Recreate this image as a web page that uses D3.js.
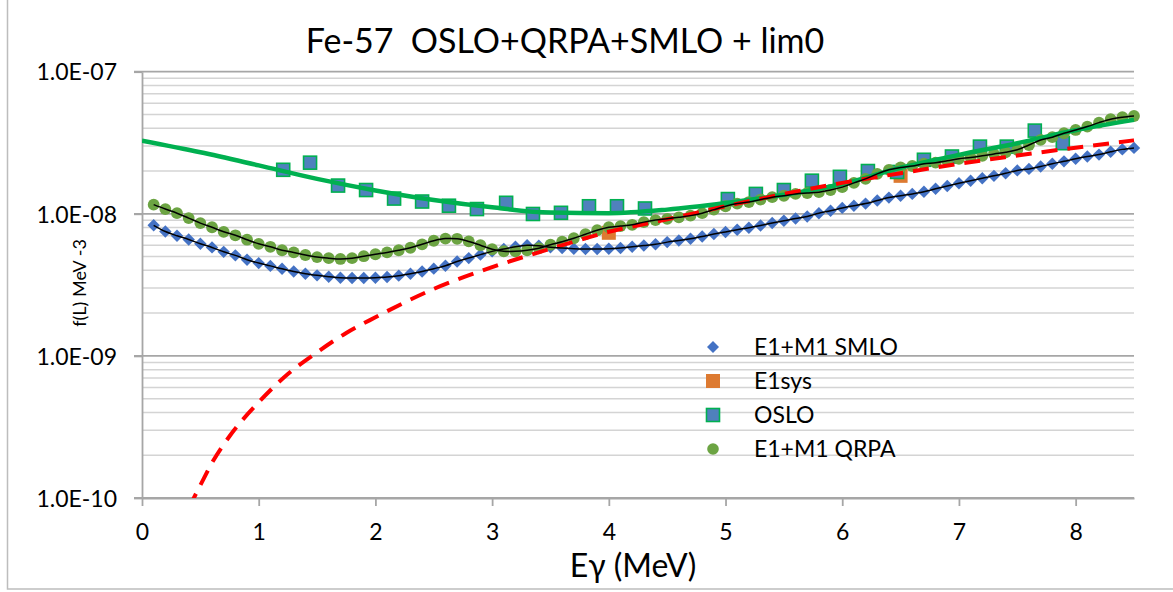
<!DOCTYPE html>
<html>
<head>
<meta charset="utf-8">
<script src="https://cdn.jsdelivr.net/npm/d3@7"></script>
<style>
  body { margin: 0; background: #fff; }
  text { font-family: Lato, "Open Sans", sans-serif; fill: #000; }
</style>
</head>
<body>
<div id="chart-area"></div>
<script>
// energies (MeV) of the calculated strength functions
const gridE = [0.1,0.2,0.3,0.4,0.5,0.6,0.7,0.8,0.9,1.0,
  1.1,1.2,1.3,1.4,1.5,1.6,1.7,1.8,1.9,2.0,
  2.1,2.2,2.3,2.4,2.5,2.6,2.7,2.8,2.9,3.0,
  3.1,3.2,3.3,3.4,3.5,3.6,3.7,3.8,3.9,4.0,
  4.1,4.2,4.3,4.4,4.5,4.6,4.7,4.8,4.9,5.0,
  5.1,5.2,5.3,5.4,5.5,5.6,5.7,5.8,5.9,6.0,
  6.1,6.2,6.3,6.4,6.5,6.6,6.7,6.8,6.9,7.0,
  7.1,7.2,7.3,7.4,7.5,7.6,7.7,7.8,7.9,8.0,
  8.1,8.2,8.3,8.4,8.5];

const smloF = [8.3e-9,7.5e-9,7.0e-9,6.6e-9,6.15e-9,5.8e-9,5.4e-9,5.1e-9,4.75e-9,4.5e-9,
  4.3e-9,4.1e-9,3.93e-9,3.79e-9,3.69e-9,3.61e-9,3.55e-9,3.53e-9,3.53e-9,3.55e-9,
  3.59e-9,3.67e-9,3.79e-9,3.93e-9,4.11e-9,4.31e-9,4.62e-9,4.88e-9,5.16e-9,5.44e-9,
  5.65e-9,5.87e-9,6.0e-9,5.96e-9,5.82e-9,5.75e-9,5.68e-9,5.65e-9,5.65e-9,5.68e-9,
  5.75e-9,5.87e-9,5.98e-9,6.1e-9,6.32e-9,6.49e-9,6.67e-9,6.93e-9,7.2e-9,7.45e-9,
  7.72e-9,7.98e-9,8.28e-9,8.61e-9,8.93e-9,9.27e-9,9.57e-9,1.01e-8,1.05e-8,1.10e-8,
  1.14e-8,1.18e-8,1.24e-8,1.30e-8,1.34e-8,1.38e-8,1.43e-8,1.50e-8,1.57e-8,1.64e-8,
  1.71e-8,1.78e-8,1.85e-8,1.93e-8,2.02e-8,2.07e-8,2.15e-8,2.25e-8,2.34e-8,2.44e-8,
  2.53e-8,2.61e-8,2.73e-8,2.84e-8,2.91e-8];

const qrpaF = [1.16e-8,1.08e-8,1.01e-8,9.33e-9,8.6e-9,8.04e-9,7.47e-9,7.06e-9,6.57e-9,6.15e-9,
  5.86e-9,5.54e-9,5.35e-9,5.13e-9,4.96e-9,4.87e-9,4.81e-9,4.87e-9,5.03e-9,5.19e-9,
  5.35e-9,5.54e-9,5.77e-9,6.10e-9,6.46e-9,6.69e-9,6.67e-9,6.39e-9,6.01e-9,5.63e-9,
  5.45e-9,5.45e-9,5.54e-9,5.72e-9,6.06e-9,6.36e-9,6.73e-9,7.18e-9,7.66e-9,8.04e-9,
  8.20e-9,8.37e-9,8.74e-9,9.03e-9,9.22e-9,9.45e-9,9.71e-9,1.01e-8,1.07e-8,1.13e-8,
  1.18e-8,1.21e-8,1.26e-8,1.31e-8,1.34e-8,1.38e-8,1.40e-8,1.42e-8,1.47e-8,1.54e-8,
  1.65e-8,1.76e-8,1.91e-8,2.04e-8,2.12e-8,2.17e-8,2.25e-8,2.29e-8,2.36e-8,2.44e-8,
  2.49e-8,2.56e-8,2.64e-8,2.71e-8,2.82e-8,3.05e-8,3.31e-8,3.46e-8,3.69e-8,3.89e-8,
  4.11e-8,4.38e-8,4.63e-8,4.78e-8,4.88e-8];

// Oslo data
const osloE = [1.21,1.44,1.68,1.92,2.16,2.40,2.63,2.87,3.12,3.35,3.59,3.83,4.07,4.31,
  5.02,5.26,5.50,5.74,5.98,6.22,6.47,6.70,6.94,7.18,7.41,7.65,7.89];
const osloF = [2.04e-8,2.29e-8,1.58e-8,1.47e-8,1.28e-8,1.22e-8,1.14e-8,1.08e-8,1.195e-8,9.97e-9,
  1.016e-8,1.13e-8,1.13e-8,1.09e-8,
  1.27e-8,1.38e-8,1.47e-8,1.71e-8,1.82e-8,2.00e-8,1.97e-8,2.40e-8,2.53e-8,2.97e-8,2.97e-8,3.85e-8,3.14e-8];

const e1sysE = [4.0, 6.5];
const e1sysF = [7.35e-9, 1.85e-8];

// fit through Oslo data (green)
const fitE = [0,0.5,1.0,1.5,2.0,2.5,3.0,3.5,4.0,4.5,5.0,5.5,6.0,6.5,7.0,7.5,8.0,8.5];
const fitF = [3.27e-8,2.71e-8,2.19e-8,1.76e-8,1.46e-8,1.25e-8,1.11e-8,1.02e-8,1.01e-8,1.07e-8,
  1.19e-8,1.36e-8,1.62e-8,2.11e-8,2.60e-8,3.14e-8,3.87e-8,4.58e-8];

// lim0 (red dashed)
const limE = [0.4,0.5,0.6,0.75,1.0,1.25,1.5,1.75,2.0,2.5,3.0,3.5,4.0,4.5,5.0,5.5,6.0,6.5,7.0,7.5,8.0,8.5];
const limF = [8.5e-11,1.23e-10,1.77e-10,2.72e-10,4.72e-10,7.45e-10,1.06e-9,1.45e-9,1.87e-9,2.96e-9,
  4.21e-9,5.67e-9,7.47e-9,9.15e-9,1.13e-8,1.38e-8,1.65e-8,1.93e-8,2.25e-8,2.57e-8,2.92e-8,3.29e-8];

const xTicks = [0,1,2,3,4,5,6,7,8];
const yTicks = [1e-10,1e-9,1e-8,1e-7];
const yTickLabels = ["1.0E-10","1.0E-09","1.0E-08","1.0E-07"];
const legendNames = ["E1+M1 SMLO","E1sys","OSLO","E1+M1 QRPA"];

const W = 1173, H = 592;
const margin = { left: 142, right: 39, top: 71.7, bottom: 94 };

const svg = d3.select("#chart-area").append("svg")
  .attr("width", W).attr("height", H);

// outer frame
svg.append("rect")
  .attr("x", 7.5).attr("y", -10)
  .attr("width", W + 20).attr("height", 599)
  .attr("fill", "#fff").attr("stroke", "#bdbdbd").attr("stroke-width", 1.5);

const x = d3.scaleLinear().domain([0, 8.5]).range([margin.left, W - margin.right]);
const y = d3.scaleLog().domain([1e-10, 1e-7]).range([H - margin.bottom, margin.top]);

const toPts = (E, F) => E.map((e, i) => ({ e: e, f: F[i] }));
const smlo = toPts(gridE, smloF);
const qrpa = toPts(gridE, qrpaF);
const oslo = toPts(osloE, osloF);
const e1sys = toPts(e1sysE, e1sysF);
const fit = toPts(fitE, fitF);
const lim = toPts(limE, limF);

// gridlines
const major = new Set(yTicks.map(d => d.toExponential(1)));
const gridVals = y.ticks().filter(d => !major.has(d.toExponential(1)));
svg.append("g").selectAll("line").data(gridVals).join("line")
  .attr("x1", x(0)).attr("x2", x(8.5))
  .attr("y1", d => y(d)).attr("y2", d => y(d))
  .attr("stroke", "#d4d4d4").attr("stroke-width", 1.5);
svg.append("g").selectAll("line").data(yTicks).join("line")
  .attr("x1", x(0) - 8).attr("x2", x(8.5))
  .attr("y1", d => y(d)).attr("y2", d => y(d))
  .attr("stroke", "#a6a6a6").attr("stroke-width", 1.8);

// axes
const xAxisG = svg.append("g")
  .attr("transform", `translate(0, ${y(1e-10)})`)
  .call(d3.axisBottom(x).tickValues(xTicks).tickSize(8).tickSizeOuter(0).tickFormat(d3.format("d")));
xAxisG.selectAll("path, line").attr("stroke", "#a6a6a6").attr("stroke-width", 1.8);
xAxisG.selectAll("text")
  .attr("y", 42).attr("dy", null)
  .style("font-size", "23px").style("font-family", "Lato").attr("fill", "#000");

const yAxisG = svg.append("g")
  .attr("transform", `translate(${x(0)}, 0)`)
  .call(d3.axisLeft(y).tickValues(yTicks).tickSize(8).tickSizeOuter(0)
    .tickPadding(17).tickFormat((d, i) => yTickLabels[i]));
yAxisG.selectAll("path, line").attr("stroke", "#a6a6a6").attr("stroke-width", 1.8);
yAxisG.selectAll("text")
  .attr("dy", "0.36em")
  .style("font-size", "23px").style("font-family", "Lato").attr("fill", "#000");

// clip
svg.append("clipPath").attr("id", "plot-clip")
  .append("rect")
  .attr("x", x(0)).attr("y", y(1e-7) - 10)
  .attr("width", x(8.5) - x(0) + 12).attr("height", y(1e-10) - y(1e-7) + 10);

const plot = svg.append("g").attr("clip-path", "url(#plot-clip)");

const colBlue = "#4472C4", colOrange = "#DD7A31", colOslo = "#4F81BD",
  colOsloEdge = "#00B050", colQrpa = "#6CA443";

const diamond = r => `M0,${-r}L${r},0L0,${r}L${-r},0Z`;

// SMLO diamonds
plot.append("g").selectAll("path").data(smlo).join("path")
  .attr("d", diamond(6.2))
  .attr("transform", d => `translate(${x(d.e)},${y(d.f)})`)
  .attr("fill", colBlue);

// E1sys squares
plot.append("g").selectAll("rect").data(e1sys).join("rect")
  .attr("x", d => x(d.e) - 7).attr("y", d => y(d.f) - 7)
  .attr("width", 14).attr("height", 14)
  .attr("fill", colOrange);

// Oslo squares
plot.append("g").selectAll("rect").data(oslo).join("rect")
  .attr("x", d => x(d.e) - 6.5).attr("y", d => y(d.f) - 6.5)
  .attr("width", 13).attr("height", 13)
  .attr("fill", colOslo).attr("stroke", colOsloEdge).attr("stroke-width", 1.6);

// QRPA circles
plot.append("g").selectAll("circle").data(qrpa).join("circle")
  .attr("cx", d => x(d.e)).attr("cy", d => y(d.f)).attr("r", 5.9)
  .attr("fill", colQrpa);

// lines
const lineGen = curve => d3.line().x(d => x(d.e)).y(d => y(d.f)).curve(curve);

plot.append("path").datum(fit)
  .attr("d", lineGen(d3.curveMonotoneX))
  .attr("fill", "none").attr("stroke", "#00B050").attr("stroke-width", 4.5);

plot.append("path").datum(lim)
  .attr("d", lineGen(d3.curveMonotoneX))
  .attr("fill", "none").attr("stroke", "#FF0000").attr("stroke-width", 4)
  .attr("stroke-dasharray", "16,10");

[smlo, qrpa].forEach(s => {
  plot.append("path").datum(s)
    .attr("d", lineGen(d3.curveCatmullRom.alpha(0.5)))
    .attr("fill", "none").attr("stroke", "#000").attr("stroke-width", 1.5);
});

// legend
const legend = svg.append("g").attr("transform", "translate(713, 347)");
const rowH = 34;
legendNames.forEach((name, i) => {
  const g = legend.append("g").attr("transform", `translate(0, ${i * rowH})`);
  if (i === 0) g.append("path").attr("d", diamond(6)).attr("fill", colBlue);
  if (i === 1) g.append("rect").attr("x", -7).attr("y", -7).attr("width", 14).attr("height", 14).attr("fill", colOrange);
  if (i === 2) g.append("rect").attr("x", -6.5).attr("y", -6.5).attr("width", 13).attr("height", 13)
    .attr("fill", colOslo).attr("stroke", colOsloEdge).attr("stroke-width", 1.6);
  if (i === 3) g.append("circle").attr("r", 5.8).attr("fill", colQrpa);
  g.append("text").attr("x", 41).attr("dy", "0.36em")
    .style("font-size", "23px").text(name);
});

// titles
svg.append("text")
  .attr("x", 565).attr("y", 53).attr("text-anchor", "middle")
  .style("font-size", "34px").style("white-space", "pre")
  .text("Fe-57  OSLO+QRPA+SMLO + lim0");

svg.append("text")
  .attr("x", 633).attr("y", 577).attr("text-anchor", "middle")
  .style("font-size", "32px")
  .text("E\u03B3 (MeV)");

svg.append("text")
  .attr("transform", "translate(86, 283) rotate(-90)")
  .attr("text-anchor", "middle")
  .style("font-size", "18px")
  .text("f(L) MeV -3");
</script>
</body>
</html>
